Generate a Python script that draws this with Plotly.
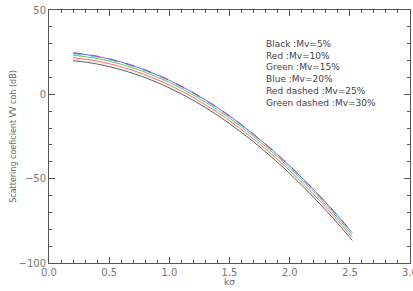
import plotly.graph_objects as go

ks = [0.2, 0.4, 0.6, 0.8, 1.0, 1.2, 1.4, 1.6, 1.8, 2.0, 2.2, 2.4, 2.52]
mv5 = [20.0, 18.0, 14.6, 9.9, 3.8, -3.6, -12.4, -22.6, -34.1, -46.9, -61.1, -76.6, -86.6]
mv10 = [21.7, 19.7, 16.3, 11.6, 5.5, -1.9, -10.7, -20.9, -32.4, -45.2, -59.4, -74.9, -84.9]
mv15 = [23.2, 21.2, 17.8, 13.1, 7.0, -0.4, -9.2, -19.4, -30.9, -43.7, -57.9, -73.4, -83.4]
mv20 = [24.5, 22.5, 19.1, 14.4, 8.3, 0.9, -7.9, -18.1, -29.6, -42.4, -56.6, -72.1, -82.1]
mv25 = [24.7, 22.7, 19.3, 14.6, 8.5, 1.1, -7.7, -17.9, -29.4, -42.2, -56.4, -71.9, -81.9]
mv30 = [24.0, 22.0, 18.6, 13.9, 7.8, 0.4, -8.4, -18.6, -30.1, -42.9, -57.1, -72.6, -82.6]

legend_lines = ["Black :Mv=5%", "Red :Mv=10%", "Green :Mv=15%", "Blue :Mv=20%",
                "Red dashed :Mv=25%", "Green dashed :Mv=30%"]
x_tick_vals = [0, 0.5, 1.0, 1.5, 2.0, 2.5, 3.0]
x_tick_text = ["0.0", "0.5", "1.0", "1.5", "2.0", "2.5", "3.0"]

series = [
    (mv5, "#333333", "solid"),
    (mv10, "#ff4040", "solid"),
    (mv15, "#30c030", "solid"),
    (mv30, "#40d0c0", "dash"),
    (mv20, "#4040ff", "solid"),
    (mv25, "#d04080", "dash"),
]

fig = go.Figure()
for ys, col, dash in series:
    fig.add_trace(go.Scatter(x=ks, y=ys, mode="lines",
                             line=dict(color=col, width=0.8, dash=dash, shape="spline"),
                             showlegend=False))

FAM = "DejaVu Sans, Verdana, sans-serif"
font = dict(family=FAM, size=10, color="#777777")

fig.add_annotation(text="<br>".join(legend_lines), xref="paper", yref="paper",
                   x=(264 - 49) / 361, y=1 - (37 - 10) / 253, xanchor="left", yanchor="top",
                   align="left", showarrow=False,
                   font=dict(family=FAM, size=9, color="#444444"))

fig.add_annotation(text="kσ", xref="paper", yref="paper", x=0.5, y=-(282 - 263) / 253,
                   xanchor="center", yanchor="middle", showarrow=False,
                   font=dict(family=FAM, size=9, color="#666666"))

axis_common = dict(showline=True, linecolor="#555555", linewidth=1, mirror="ticks", ticks="inside",
                   ticklen=6, tickcolor="#555555", showgrid=False, zeroline=False, tickfont=font,
                   automargin=False)

fig.update_xaxes(range=[0, 3.0], tickvals=x_tick_vals, ticktext=x_tick_text,
                 ticklabeloverflow="allow",
                 minor=dict(dtick=0.1, ticks="inside", ticklen=3, tickcolor="#555555"),
                 **axis_common)
fig.update_yaxes(range=[-100, 50], dtick=50,
                 minor=dict(dtick=10, ticks="inside", ticklen=3, tickcolor="#555555"),
                 title=dict(text="Scattering coeficient VV coh (dB)", font=dict(family=FAM, size=8, color="#666666"), standoff=0),
                 **axis_common)

fig.update_layout(width=413, height=291, margin=dict(l=49, r=3, t=10, b=28),
                  paper_bgcolor="white", plot_bgcolor="white")

fig.write_html("out.html", config={"displayModeBar": False},
               post_script="document.body.style.margin='0px';document.body.style.overflow='hidden';")
